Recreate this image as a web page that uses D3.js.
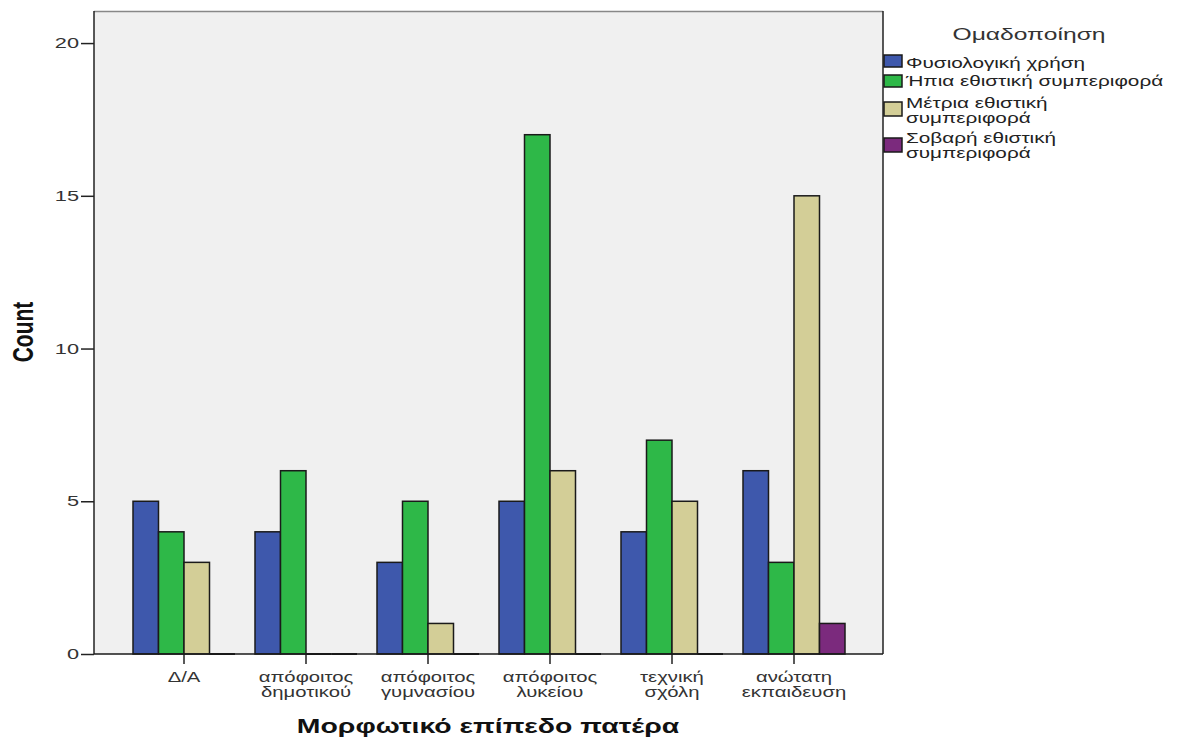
<!DOCTYPE html>
<html><head><meta charset="utf-8">
<script src="https://cdn.jsdelivr.net/npm/d3@7"></script>
<style>body{margin:0;background:#fff;} text{font-family:"Liberation Sans",Arial,sans-serif;}</style>
</head><body>
<svg id="c" width="1177" height="743"></svg>
<script>
const categories = [["Δ/Α"],["απόφοιτος","δημοτικού"],["απόφοιτος","γυμνασίου"],["απόφοιτος","λυκείου"],["τεχνική","σχόλη"],["ανώτατη","εκπαιδευση"]];
const seriesNames = [["Φυσιολογική χρήση"],["Ήπια εθιστική συμπεριφορά"],["Μέτρια εθιστική","συμπεριφορά"],["Σοβαρή εθιστική","συμπεριφορά"]];
const seriesColors = ["#3e58ac","#2eb848","#d3ce97","#7b2a7d"];
const normal   = [5,4,3,5,4,6];
const mild     = [4,6,5,17,7,3];
const moderate = [3,0,1,6,5,15];
const severe   = [0,0,0,0,0,1];
const yTicks = [0,5,10,15,20];
const values = [normal, mild, moderate, severe];

const SX = 1.45; // horizontal stretch of the reference rendering
const svg = d3.select("#c");
function addText(x, y, lines, o){
  const g = svg.append("g").attr("transform", `translate(${x},${y}) scale(${o.sx||SX},1)`);
  const t = g.append("text").attr("x",0).attr("y",0).attr("text-anchor",o.anchor||"start")
    .attr("font-size",o.size||14).attr("fill",o.fill||"#333").attr("font-weight",o.weight||"normal");
  lines.forEach((ln,k)=>t.append("tspan").attr("x",0).attr("dy",k?(o.lh||15):0).text(ln));
  return g;
}

const L=94, R=883, T=11, B=654;
svg.append("rect").attr("x",L).attr("y",T).attr("width",R-L).attr("height",B-T).attr("fill","#f0f0f0");
svg.append("line").attr("x1",L).attr("x2",R).attr("y1",T+0.5).attr("y2",T+0.5).attr("stroke","#888").attr("stroke-width",1.5);
svg.append("line").attr("x1",R).attr("x2",R).attr("y1",T).attr("y2",B).attr("stroke","#222").attr("stroke-width",1.5);

const y = d3.scaleLinear().domain([0,21.05]).range([B,T]);
const catIdx = categories.map((d,i)=>i);
const x0 = d3.scaleBand().domain(catIdx).range([123,855]).paddingInner(0);
const clusterW = 102;
const x1 = d3.scaleBand().domain([0,1,2,3]).range([0,clusterW]);

// bars
catIdx.forEach(ci=>{
  const gx = x0(ci) + (x0.bandwidth()-clusterW)/2;
  values.forEach((ser,si)=>{
    const v = ser[ci];
    const bx = gx + x1(si);
    if(v>0){
      svg.append("rect").attr("x",bx).attr("y",y(v)).attr("width",x1.bandwidth()).attr("height",B-y(v))
        .attr("fill",seriesColors[si]).attr("stroke","#1a1a1a").attr("stroke-width",1.5);
    } else {
      svg.append("line").attr("x1",bx).attr("x2",bx+x1.bandwidth()).attr("y1",B).attr("y2",B)
        .attr("stroke","#1a1a1a").attr("stroke-width",2);
    }
  });
});

// y axis
const yAxis = d3.axisLeft(y).tickValues(yTicks).tickSize(13).tickFormat("");
const gy = svg.append("g").attr("transform",`translate(${L},0)`).call(yAxis);
gy.select(".domain").attr("stroke","#222").attr("stroke-width",1.5).attr("d",`M0,${T}V${B}`);
gy.selectAll(".tick line").attr("stroke","#222").attr("stroke-width",1.5);
yTicks.forEach(v=>addText(L-15, y(v)+5, [String(v)], {anchor:"end", size:15, fill:"#333"}));

// x axis
const xAxis = d3.axisBottom(x0).tickSize(10).tickFormat("");
const gxa = svg.append("g").attr("transform",`translate(0,${B})`).call(xAxis);
gxa.select(".domain").remove();
gxa.selectAll(".tick line").attr("stroke","#222").attr("stroke-width",1.5);
svg.append("line").attr("x1",L).attr("x2",R).attr("y1",B).attr("y2",B).attr("stroke","#1a1a1a").attr("stroke-width",1.5);
catIdx.forEach(ci=>{
  const cx = x0(ci)+x0.bandwidth()/2;
  addText(cx, 682, categories[ci], {anchor:"middle", size:14, fill:"#333", lh:15});
});

// axis titles
addText(488, 733, ["Μορφωτικό επίπεδο πατέρα"], {anchor:"middle", size:20, weight:"bold", fill:"#111", sx:1.42});
svg.append("g").attr("transform","translate(33,332) scale(1.4,1)")
  .append("text").attr("transform","rotate(-90)").attr("text-anchor","middle").attr("font-size",21).attr("font-weight","bold").attr("fill","#111").text("Count");

// legend
addText(1029, 40, ["Ομαδοποίηση"], {anchor:"middle", size:17, fill:"#333"});
const legSw = [55,75,102,138];
const legTxt = [68,86,108,143];
seriesNames.forEach((nm,i)=>{
  svg.append("rect").attr("x",884).attr("y",legSw[i]).attr("width",18).attr("height",nm.length>1?14:12)
    .attr("fill",seriesColors[i]).attr("stroke","#1a1a1a").attr("stroke-width",1.5);
  addText(906, legTxt[i], nm, {size:14, fill:"#222", lh:15, sx:1.48});
});
</script>
</body></html>
